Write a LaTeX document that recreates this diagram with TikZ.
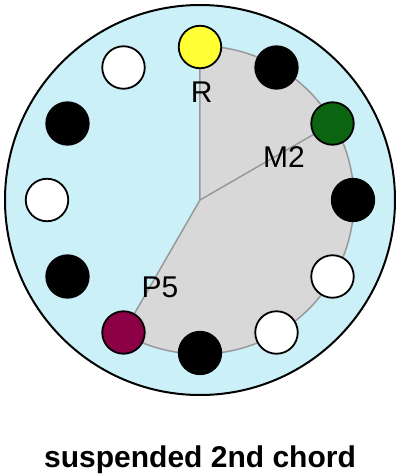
\documentclass[tikz,border=0pt]{standalone}
\usepackage{fontspec}
\setmainfont{Liberation Sans}
\definecolor{bgblue}{RGB}{204,240,248}
\definecolor{sectorgray}{RGB}{216,216,216}
\definecolor{linegray}{RGB}{153,153,153}
\definecolor{rootyellow}{RGB}{255,255,51}
\definecolor{secondgreen}{RGB}{10,100,16}
\definecolor{fifthmaroon}{RGB}{140,0,70}
\tikzset{
  keydot/.style={circle, draw=black, line width=1.8pt, minimum size=42.5pt, inner sep=0pt},
  whitekey/.style={keydot, fill=white},
  blackkey/.style={keydot, fill=black},
  lbl/.style={font=\fontsize{30}{30}\selectfont, inner sep=0pt},
  titlelbl/.style={font=\fontsize{30}{30}\selectfont\bfseries, inner sep=0pt}
}
\begin{document}
\begin{tikzpicture}[x=1pt,y=1pt]
\useasboundingbox (-200,-274) rectangle (200,200);
\fill[bgblue, draw=black, line width=2pt] (0,0) circle (195);
\coordinate (c) at (0,0);
\filldraw[fill=sectorgray, draw=linegray, line width=1.5pt] (c) -- (90:154) arc[start angle=90, end angle=-120, radius=154] -- cycle;
\draw[linegray, line width=1.5pt] (c) -- (30:154);
\node[keydot, fill=rootyellow] (k0) at (90:153) {};
\node[blackkey] (k1) at (60:153) {};
\node[keydot, fill=secondgreen] (k2) at (30:153) {};
\node[blackkey] (k3) at (0:153) {};
\node[whitekey] (k4) at (-30:153) {};
\node[whitekey] (k5) at (-60:153) {};
\node[blackkey] (k6) at (-90:153) {};
\node[keydot, fill=fifthmaroon] (k7) at (-120:153) {};
\node[blackkey] (k8) at (-150:153) {};
\node[whitekey] (k9) at (180:153) {};
\node[blackkey] (k10) at (150:153) {};
\node[whitekey] (k11) at (120:153) {};
\node[lbl] (lr) at (1.7,107.5) {R};
\node[lbl] (lm) at (84,43) {M2};
\node[lbl] (lp) at (-40,-87) {P5};
\node[titlelbl, anchor=base] (title) at (0,-267) {suspended 2nd chord};
\end{tikzpicture}
\end{document}
